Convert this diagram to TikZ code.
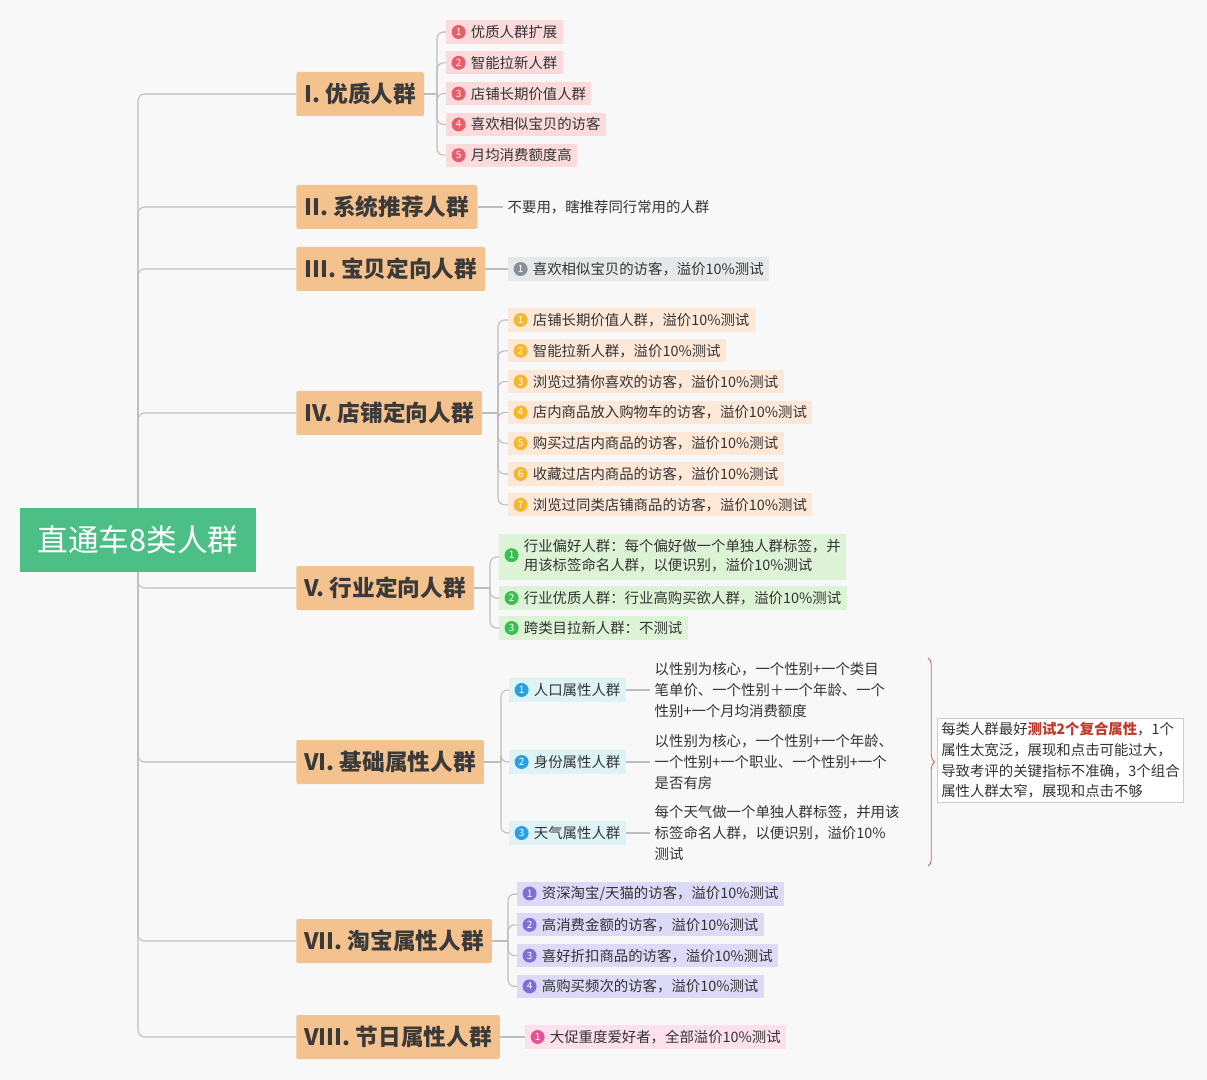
\documentclass[tikz,border=0pt]{standalone}
\usepackage{fontspec}
\setmainfont{Noto Sans CJK SC}
\usetikzlibrary{decorations.pathreplacing}
\definecolor{bg}{HTML}{F8F8F8}
\definecolor{rootc}{HTML}{4CBF87}
\definecolor{catc}{HTML}{F4C28E}
\definecolor{cattx}{HTML}{3A3A3A}
\definecolor{ln}{HTML}{BDBDBD}
\definecolor{pkA}{HTML}{FADADB}\definecolor{pkB}{HTML}{E85D6A}
\definecolor{gyA}{HTML}{E6E8EA}\definecolor{gyB}{HTML}{8A8F96}
\definecolor{orA}{HTML}{FDE8D8}\definecolor{orB}{HTML}{F5B731}
\definecolor{grA}{HTML}{DDF3D6}\definecolor{grB}{HTML}{3DBE55}
\definecolor{cyA}{HTML}{DDF3F6}\definecolor{cyB}{HTML}{2AA0E0}
\definecolor{lvA}{HTML}{DCDAF6}\definecolor{lvB}{HTML}{7E6FD8}
\definecolor{mgA}{HTML}{FCE0EC}\definecolor{mgB}{HTML}{E0559A}
\definecolor{redtx}{HTML}{C0392B}
\newcommand\nbc[2]{\tikz[baseline=-0.7ex]\node[circle,fill=#2,text=white,inner sep=0pt,minimum size=10.5pt,font=\fontsize{7.5}{7.5}\selectfont]{#1};\hspace{4pt}}
\begin{document}
\begin{tikzpicture}[x=0.75pt,y=-0.75pt,
  root/.style={fill=rootc,text=white,minimum width=177pt,minimum height=48pt,font=\fontsize{23}{25}\selectfont},
  cat/.style={fill=catc,text=cattx,anchor=west,minimum height=33pt,inner xsep=6pt,rounded corners=1.5pt,font=\fontsize{17}{18}\selectfont\bfseries},
  leaf/.style={anchor=west,inner xsep=4pt,inner ysep=3.5pt,text=black!80,font=\fontsize{10.8}{14}\selectfont},
  desc/.style={anchor=west,align=left,text=black!80,font=\fontsize{10.8}{15.5}\selectfont},
  con/.style={draw=ln,line width=0.8pt,rounded corners=5pt}]
\fill[bg] (0,0) rectangle (1207,1080);
\useasboundingbox (0,0) rectangle (1207,1080);
\node[root] (root) at (138,540) {直通车8类人群};
\node[cat] (c1) at (296,94) {I. 优质人群};
\node[cat] (c2) at (296,207) {II. 系统推荐人群};
\node[cat] (c3) at (296,269) {III. 宝贝定向人群};
\node[cat] (c4) at (296,413) {IV. 店铺定向人群};
\node[cat] (c5) at (296,588) {V. 行业定向人群};
\node[cat] (c6) at (296,762) {VI. 基础属性人群};
\node[cat] (c7) at (296,941) {VII. 淘宝属性人群};
\node[cat] (c8) at (296,1037) {VIII. 节日属性人群};
\foreach \c in {c1,c2,c3,c4} \draw[con] (root.north) |- (\c.west);
\foreach \c in {c5,c6,c7,c8} \draw[con] (root.south) |- (\c.west);
% I
\foreach \t [count=\i] in {优质人群扩展,智能拉新人群,店铺长期价值人群,喜欢相似宝贝的访客,月均消费额度高}
  \node[leaf,fill=pkA] (a\i) at (446,{32+30.8*(\i-1)}) {\nbc{\i}{pkB}\t};
\coordinate (b1) at (437,94);
\draw[con] (c1.east) -- (b1);
\foreach \i in {1,...,5} \draw[con] (b1) |- (a\i.west);
% II
\node[desc] (t2) at (503,207) {不要用，瞎推荐同行常用的人群};
\draw[con] (c2.east) -- (t2.west);
% III
\node[leaf,fill=gyA] (t3) at (508,269) {\nbc{1}{gyB}喜欢相似宝贝的访客，溢价10\%测试};
\draw[con] (c3.east) -- (t3.west);
% IV
\foreach \t [count=\i] in {店铺长期价值人群，溢价10\%测试,智能拉新人群，溢价10\%测试,浏览过猜你喜欢的访客，溢价10\%测试,店内商品放入购物车的访客，溢价10\%测试,购买过店内商品的访客，溢价10\%测试,收藏过店内商品的访客，溢价10\%测试,浏览过同类店铺商品的访客，溢价10\%测试}
  \node[leaf,fill=orA] (d\i) at (508,{320+30.8*(\i-1)}) {\nbc{\i}{orB}\t};
\coordinate (b4) at (498,413);
\draw[con] (c4.east) -- (b4);
\foreach \i in {1,...,7} \draw[con] (b4) |- (d\i.west);
% V
\node[leaf,fill=grA] (e1) at (499,557) {\nbc{1}{grB}\begin{tabular}[c]{@{}l@{}}行业偏好人群：每个偏好做一个单独人群标签，并\\用该标签命名人群，以便识别，溢价10\%测试\end{tabular}};
\node[leaf,fill=grA] (e2) at (499,598) {\nbc{2}{grB}行业优质人群：行业高购买欲人群，溢价10\%测试};
\node[leaf,fill=grA] (e3) at (499,628) {\nbc{3}{grB}跨类目拉新人群：不测试};
\coordinate (b5) at (490,588);
\draw[con] (c5.east) -- (b5);
\foreach \i in {1,2,3} \draw[con] (b5) |- (e\i.west);
% VI
\node[leaf,fill=cyA] (f1) at (509,690) {\nbc{1}{cyB}人口属性人群};
\node[leaf,fill=cyA] (f2) at (509,762) {\nbc{2}{cyB}身份属性人群};
\node[leaf,fill=cyA] (f3) at (509,833) {\nbc{3}{cyB}天气属性人群};
\coordinate (b6) at (501,762);
\draw[con] (c6.east) -- (b6);
\foreach \i in {1,2,3} \draw[con] (b6) |- (f\i.west);
\node[desc] (g1) at (650,690) {以性别为核心，一个性别+一个类目\\笔单价、一个性别＋一个年龄、一个\\性别+一个月均消费额度};
\node[desc] (g2) at (650,762) {以性别为核心，一个性别+一个年龄、\\一个性别+一个职业、一个性别+一个\\是否有房};
\node[desc] (g3) at (650,833) {每个天气做一个单独人群标签，并用该\\标签命名人群，以便识别，溢价10\%\\测试};
\foreach \i in {1,2,3} \draw[con] (f\i.east) -- (g\i.west);
\coordinate (br1) at (928,658);
\coordinate (br2) at (928,866);
\draw[redtx!80,line width=0.6pt,decorate,decoration={brace,amplitude=5pt}] (br1) -- (br2);
\node[draw=black!20,fill=white,anchor=north west,align=left,inner sep=3pt,text=black!80,font=\fontsize{10.8}{15.5}\selectfont] (note) at (937,718) {每类人群最好{\color{redtx}\bfseries 测试2个复合属性}，1个\\属性太宽泛，展现和点击可能过大，\\导致考评的关键指标不准确，3个组合\\属性人群太窄，展现和点击不够};
% VII
\foreach \t [count=\i] in {资深淘宝/天猫的访客，溢价10\%测试,高消费金额的访客，溢价10\%测试,喜好折扣商品的访客，溢价10\%测试,高购买频次的访客，溢价10\%测试}
  \node[leaf,fill=lvA] (h\i) at (517,{894+30.8*(\i-1)}) {\nbc{\i}{lvB}\t};
\coordinate (b7) at (508,941);
\draw[con] (c7.east) -- (b7);
\foreach \i in {1,...,4} \draw[con] (b7) |- (h\i.west);
% VIII
\node[leaf,fill=mgA] (k1) at (525,1037) {\nbc{1}{mgB}大促重度爱好者，全部溢价10\%测试};
\draw[con] (c8.east) -- (k1.west);
\end{tikzpicture}
\end{document}
